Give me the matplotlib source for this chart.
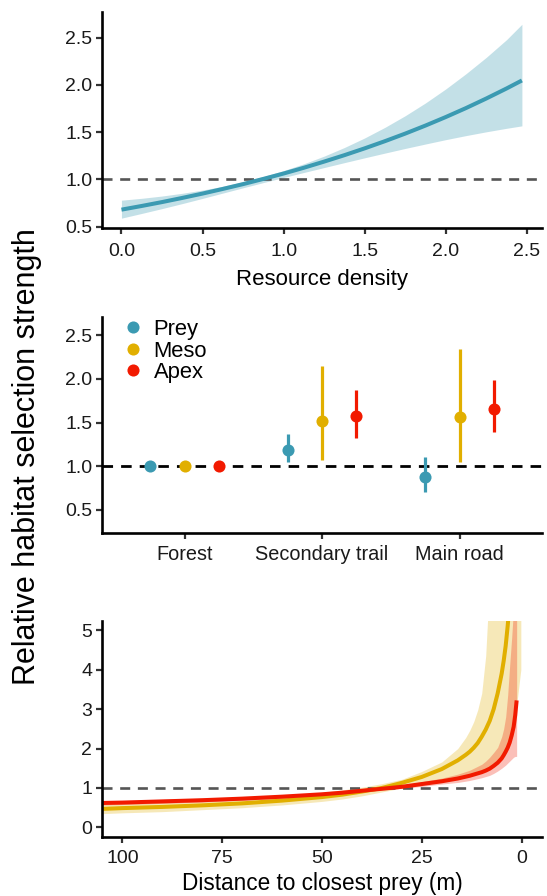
import matplotlib
matplotlib.use("Agg")
import matplotlib.pyplot as plt
import numpy as np

plt.rcParams['font.family'] = ['Liberation Sans', 'DejaVu Sans']

# ---------------- data ----------------
# Panel A: resource density
resource_x = [0.0, 0.125, 0.25, 0.375, 0.5, 0.625, 0.75, 0.875, 1.0, 1.125, 1.25,
              1.375, 1.5, 1.625, 1.75, 1.875, 2.0, 2.125, 2.25, 2.375, 2.47]
resource_fit = [0.680, 0.719, 0.760, 0.804, 0.850, 0.899, 0.950, 1.005, 1.062, 1.123, 1.188,
                1.256, 1.328, 1.404, 1.484, 1.569, 1.659, 1.754, 1.855, 1.961, 2.046]
resource_lo = [0.590, 0.640, 0.691, 0.744, 0.799, 0.855, 0.911, 0.966, 1.020, 1.073, 1.125,
               1.177, 1.228, 1.278, 1.327, 1.374, 1.420, 1.463, 1.503, 1.540, 1.566]
resource_hi = [0.780, 0.800, 0.824, 0.853, 0.887, 0.927, 0.975, 1.030, 1.093, 1.165, 1.246,
               1.337, 1.438, 1.550, 1.673, 1.808, 1.956, 2.117, 2.290, 2.477, 2.640]

# Panel B: habitat types
habitats = ['Forest', 'Secondary trail', 'Main road']
groups = ['Prey', 'Meso', 'Apex']
prey_est = [1.0, 1.19, 0.88]
prey_lo = [1.0, 1.045, 0.71]
prey_hi = [1.0, 1.37, 1.10]
meso_est = [1.0, 1.52, 1.56]
meso_lo = [1.0, 1.07, 1.045]
meso_hi = [1.0, 2.15, 2.34]
apex_est = [1.0, 1.57, 1.66]
apex_lo = [1.0, 1.32, 1.39]
apex_hi = [1.0, 1.87, 1.99]

# Panel C: distance to closest prey
meso_dist = [105, 100, 90, 80, 70, 60, 50, 45, 40, 35, 30, 25, 20, 16, 14, 13, 12, 11, 10, 9,
             8, 7, 6, 5, 4.5, 4, 3.5, 3, 2.5, 2, 1.6, 1.25, 0.2]
meso_fit = [0.47, 0.49, 0.52, 0.56, 0.61, 0.68, 0.77, 0.83, 0.91, 1.0, 1.13, 1.28, 1.48, 1.70,
            1.84, 1.92, 2.02, 2.14, 2.3, 2.48, 2.7, 3.0, 3.4, 3.9, 4.22, 4.6, 5.1, 5.7, 6.5,
            7.5, 8.5, 9.5, 15.0]
meso_dlo = [0.35, 0.37, 0.40, 0.45, 0.50, 0.57, 0.66, 0.72, 0.80, 0.90, 1.0, 1.08, 1.16, 1.24,
            1.28, 1.31, 1.34, 1.37, 1.40, 1.45, 1.50, 1.57, 1.64, 1.75, 1.83, 1.92, 2.05, 2.2,
            2.38, 2.6, 2.85, 3.1, 4.0]
meso_dhi = [0.60, 0.62, 0.66, 0.70, 0.75, 0.81, 0.89, 0.95, 1.02, 1.11, 1.22, 1.42, 1.66, 2.0,
            2.28, 2.46, 2.68, 2.98, 3.4, 4.35, 6.3, 8.0, 10.0, 12.0, 12.8, 13.5, 14.0, 15.0,
            16.0, 17.0, 18.0, 19.0, 22.0]

apex_dist = [105, 100, 90, 80, 70, 60, 50, 45, 40, 35, 30, 25, 20, 16, 13, 10, 9, 8, 7, 6,
             5, 4.5, 4, 3.5, 3, 2.5, 2, 1.6, 1.25]
apex_fit = [0.62, 0.63, 0.66, 0.69, 0.73, 0.78, 0.84, 0.88, 0.93, 0.98, 1.03, 1.10, 1.17, 1.24,
            1.31, 1.40, 1.44, 1.49, 1.56, 1.64, 1.75, 1.83, 1.92, 2.02, 2.15, 2.33, 2.55, 2.85, 3.22]
apex_dlo = [0.57, 0.58, 0.61, 0.645, 0.69, 0.74, 0.81, 0.85, 0.90, 0.95, 0.99, 1.04, 1.10, 1.14,
            1.19, 1.26, 1.29, 1.32, 1.37, 1.43, 1.50, 1.54, 1.58, 1.63, 1.68, 1.73, 1.78, 1.80, 1.80]
apex_dhi = [0.67, 0.68, 0.71, 0.74, 0.77, 0.82, 0.88, 0.91, 0.96, 1.01, 1.07, 1.16, 1.25, 1.35,
            1.45, 1.60, 1.68, 1.78, 1.90, 2.03, 2.3, 2.5, 2.8, 3.35, 4.1, 4.8, 5.6, 6.1, 6.5]

# ---------------- style ----------------
C_PREY = '#3B9AB2'
C_MESO = '#E1AF00'
C_APEX = '#F21A00'
TICK_COL = '#1a1a1a'

fig = plt.figure(figsize=(5.47, 8.96), dpi=100)
W, H = 547.0, 896.0


def add_ax(left, top, right, bottom):
    return fig.add_axes([left / W, 1 - bottom / H, (right - left) / W, (bottom - top) / H])


def style(ax, fs):
    for s in ['top', 'right']:
        ax.spines[s].set_visible(False)
    for s in ['left', 'bottom']:
        ax.spines[s].set_linewidth(1.9)
        ax.spines[s].set_color('black')
    ax.tick_params(axis='both', length=4, width=1.6, color='#333333',
                   labelsize=fs, labelcolor=TICK_COL, pad=3)


def hline(ax, color, lw=1.9):
    ax.axhline(1.0, color=color, lw=lw, dashes=(3.8, 2.9), zorder=1.5)


# Panel A
ax1 = add_ax(102, 12, 542, 228)
ax1.fill_between(resource_x, resource_lo, resource_hi, color=C_PREY, alpha=0.3, lw=0)
ax1.plot(resource_x, resource_fit, color=C_PREY, lw=2.9, solid_capstyle='butt',
         solid_joinstyle='round')
hline(ax1, '#555555')
ax1.set_xlim(-0.12, 2.594)
ax1.set_ylim(0.486, 2.77)
ax1.set_xticks([0.0, 0.5, 1.0, 1.5, 2.0, 2.5])
ax1.set_xticklabels(['0.0', '0.5', '1.0', '1.5', '2.0', '2.5'])
ax1.set_yticks([0.5, 1.0, 1.5, 2.0, 2.5])
ax1.set_yticklabels(['0.5', '1.0', '1.5', '2.0', '2.5'])
style(ax1, 14)
ax1.tick_params(axis='x', pad=6.5)
ax1.set_xlabel('Resource density', fontsize=16, labelpad=7)

# Panel B
ax2 = add_ax(102, 316.7, 542, 532.7)
hline(ax2, 'black', lw=2.0)
pos = np.arange(1, len(habitats) + 1)
offsets = [-0.25, 0.0, 0.25]
series = [(prey_est, prey_lo, prey_hi, C_PREY),
          (meso_est, meso_lo, meso_hi, C_MESO),
          (apex_est, apex_lo, apex_hi, C_APEX)]
for (est, lo, hi, col), off, name in zip(series, offsets, groups):
    xs = pos + off
    ax2.vlines(xs, lo, hi, color=col, lw=2.3, zorder=2)
    ax2.plot(xs, est, 'o', color=col, ms=8.7, mew=0, zorder=3, label=name)
ax2.set_xlim(0.4, 3.6)
ax2.set_ylim(0.24, 2.71)
ax2.set_xticks(pos)
ax2.set_xticklabels(habitats)
ax2.set_yticks([0.5, 1.0, 1.5, 2.0, 2.5])
ax2.set_yticklabels(['0.5', '1.0', '1.5', '2.0', '2.5'])
style(ax2, 14)
ax2.tick_params(axis='x', labelsize=14.3, pad=4.5)
leg = ax2.legend(loc='upper left', bbox_to_anchor=(0.005, 1.06), frameon=False,
                 fontsize=15.8, handletextpad=0.35, labelspacing=0.02,
                 handlelength=1.2, borderaxespad=0.3, markerscale=1.0)

# Panel C
ax3 = add_ax(102, 620.7, 542, 837.3)
ax3.fill_between(meso_dist, meso_dlo, meso_dhi, color=C_MESO, alpha=0.28, lw=0, zorder=1)
ax3.fill_between(apex_dist, apex_dlo, apex_dhi, color=C_APEX, alpha=0.28, lw=0, zorder=1.1)
hline(ax3, '#555555')
ax3.plot(meso_dist, meso_fit, color=C_MESO, lw=2.9, zorder=2, solid_joinstyle='round')
ax3.plot(apex_dist, apex_fit, color=C_APEX, lw=2.9, zorder=2.1, solid_capstyle='butt',
         solid_joinstyle='round')
ax3.set_xlim(105.1, -5.1)
ax3.set_ylim(-0.25, 5.24)
ax3.set_xticks([100, 75, 50, 25, 0])
ax3.set_xticklabels(['100', '75', '50', '25', '0'])
ax3.set_yticks([0, 1, 2, 3, 4, 5])
ax3.set_yticklabels(['0', '1', '2', '3', '4', '5'])
style(ax3, 14)
ax3.tick_params(axis='x', pad=5)
ax3.set_xlabel('Distance to closest prey (m)', fontsize=16.3, labelpad=4)

fig.text(27 / W, 1 - 457 / H, 'Relative habitat selection strength',
         rotation=90, ha='center', va='center', fontsize=22)

fig.savefig('out.png', dpi=100)
